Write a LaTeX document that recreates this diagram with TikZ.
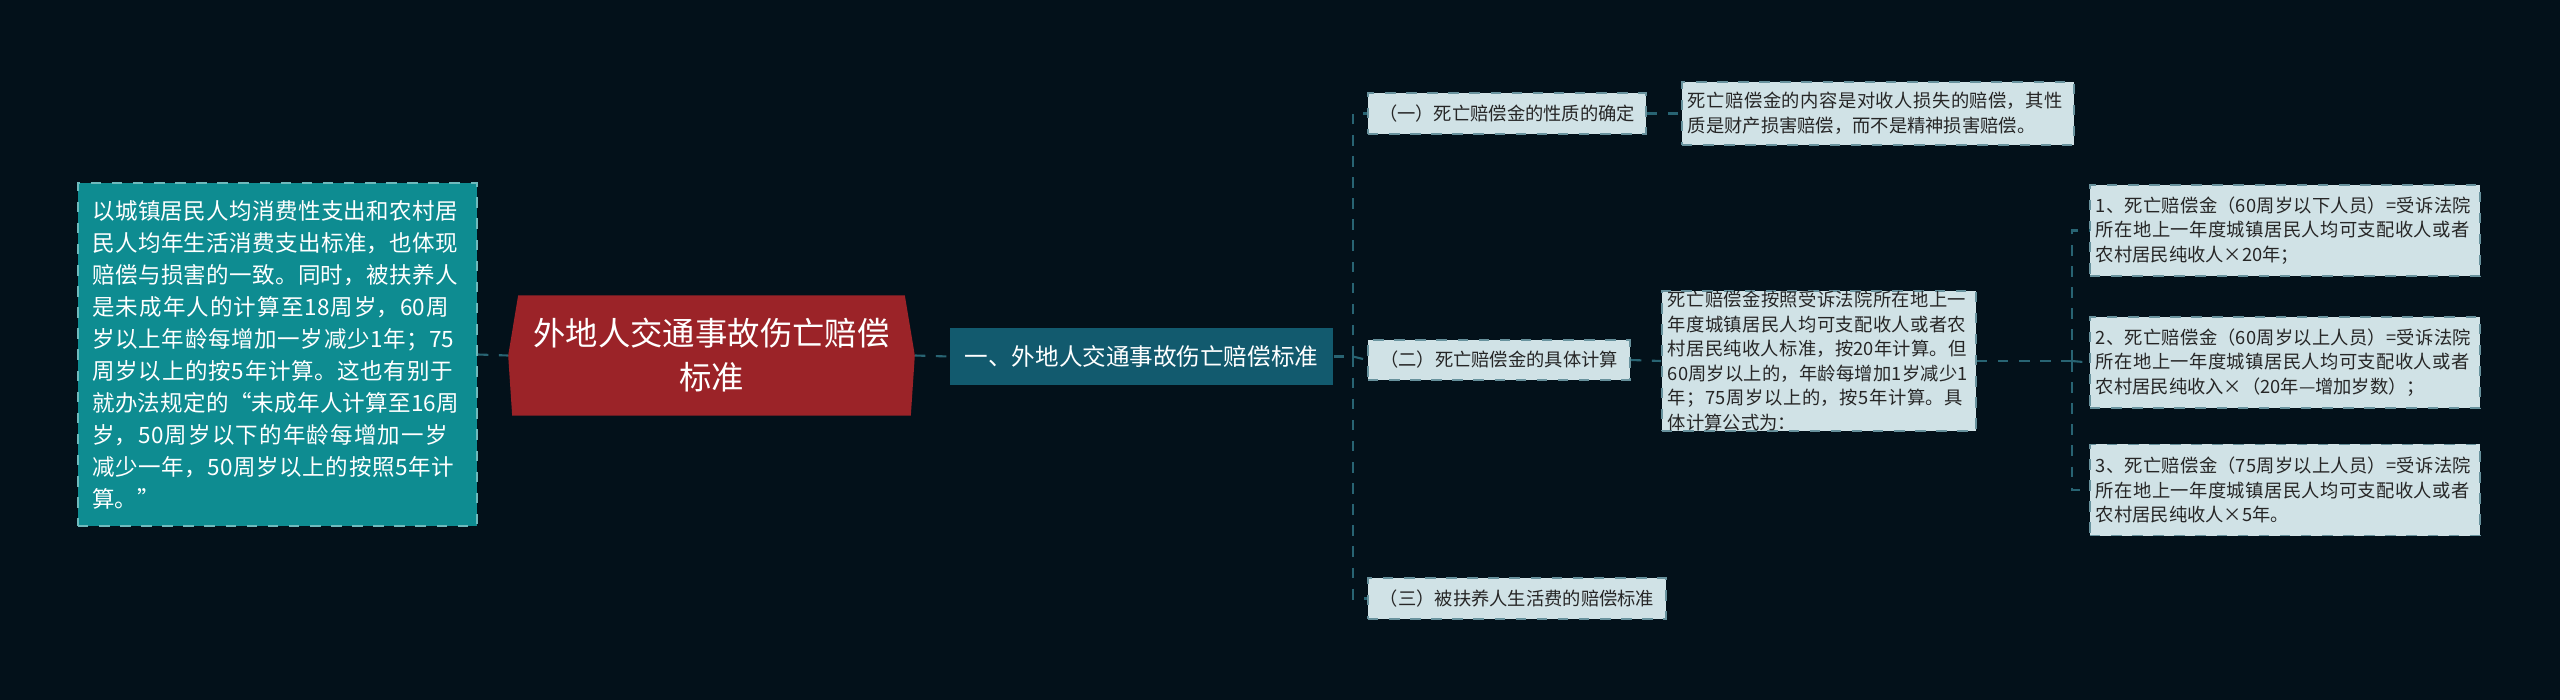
\documentclass[tikz,border=0pt]{standalone}
\usepackage{fontspec}
\setmainfont{Noto Sans CJK SC}
\XeTeXlinebreaklocale "zh"
\XeTeXlinebreakskip=0pt plus 1pt
\usetikzlibrary{positioning,calc}
\definecolor{bgc}{RGB}{3,17,26}
\definecolor{rootc}{RGB}{155,35,40}
\definecolor{leftc}{RGB}{14,140,145}
\definecolor{lonec}{RGB}{18,90,110}
\definecolor{leafc}{RGB}{208,226,230}
\definecolor{linec}{RGB}{40,100,115}
\tikzset{
  leaf/.style={draw=linec!70!white,dashed,fill=leafc,text=black!85,inner xsep=0.06cm,inner ysep=0,align=left,font=\fontsize{5.2pt}{7pt}\selectfont},
  link/.style={draw=linec,dashed,line width=0.6pt}
}
\begin{document}
\begin{tikzpicture}[x=0.01cm,y=-0.01cm]
\fill[bgc] (0,0) rectangle (2560,700);
% left and root
\node[draw=leftc!60!white,dashed,fill=leftc,text=white,inner sep=0,minimum width=3.99cm,minimum height=3.43cm,text width=3.7cm,align=left,font=\fontsize{6.4pt}{9.1pt}\selectfont] (info) at (277.5,354.5)
  {以城镇居民人均消费性支出和农村居民人均年生活消费支出标准，也体现赔偿与损害的一致。同时，被扶养人是未成年人的计算至18周岁，60周岁以上年龄每增加一岁减少1年；75周岁以上的按5年计算。这也有别于就办法规定的“未成年人计算至16周岁，50周岁以下的年龄每增加一岁减少一年，50周岁以上的按照5年计算。”};
\node[inner sep=0,minimum width=4.05cm,minimum height=1.19cm] (root) at (711.5,355.5) {};
\fill[rootc] ($(root.north west)+(10,0)$) -- ($(root.north east)+(-10,0)$) -- (root.east) -- ($(root.south east)+(-4,0)$) -- ($(root.south west)+(4,0)$) -- (root.west) -- cycle;
\node[text=white,align=center,font=\fontsize{9.2pt}{12.5pt}\selectfont] at (root) {外地人交通事故伤亡赔偿\\标准};
\node[fill=lonec,text=white,inner sep=0,minimum width=3.83cm,minimum height=0.57cm,font=\fontsize{6.7pt}{8pt}\selectfont] (lone) at (1141.5,356.5) {一、外地人交通事故伤亡赔偿标准};
% second level
\node[leaf,minimum width=2.78cm,minimum height=0.41cm] (sone) at (1507,113.5) {（一）死亡赔偿金的性质的确定};
\node[leaf,minimum width=2.62cm,minimum height=0.40cm] (stwo) at (1499,360) {（二）死亡赔偿金的具体计算};
\node[leaf,minimum width=2.98cm,minimum height=0.41cm] (sthree) at (1517,598.5) {（三）被扶养人生活费的赔偿标准};
\node[leaf,minimum width=3.92cm,minimum height=0.63cm,text width=3.8cm] (tone) at (1878,113.5) {死亡赔偿金的内容是对收人损失的赔偿，其性质是财产损害赔偿，而不是精神损害赔偿。};
\node[leaf,minimum width=3.14cm,minimum height=1.40cm,text width=3.02cm] (ttwo) at (1819,361) {死亡赔偿金按照受诉法院所在地上一年度城镇居民人均可支配收人或者农村居民纯收人标准，按20年计算。但60周岁以上的，年龄每增加1岁减少1年；75周岁以上的，按5年计算。具体计算公式为：};
% formulas
\node[leaf,minimum width=3.90cm,minimum height=0.91cm,text width=3.78cm] (fone) at (2285,230.5) {1、死亡赔偿金（60周岁以下人员）=受诉法院所在地上一年度城镇居民人均可支配收人或者农村居民纯收人×20年；};
\node[leaf,minimum width=3.90cm,minimum height=0.91cm,text width=3.78cm] (ftwo) at (2285,362.5) {2、死亡赔偿金（60周岁以上人员）=受诉法院所在地上一年度城镇居民人均可支配收人或者农村居民纯收入×（20年—增加岁数）；};
\node[leaf,minimum width=3.90cm,minimum height=0.91cm,text width=3.78cm] (fthree) at (2285,490) {3、死亡赔偿金（75周岁以上人员）=受诉法院所在地上一年度城镇居民人均可支配收人或者农村居民纯收人×5年。};
% links
\draw[link] (info.east) -- (root.west);
\draw[link] (root.east) -- (lone.west);
\draw[link] (lone.east) -- ++(19,0) coordinate (spa);
\draw[link] (spa) |- (sone.west);
\draw[link] (spa) -- (stwo.west);
\draw[link] (spa) |- (sthree.west);
\draw[link] (sone.east) -- (tone.west);
\draw[link] (stwo.east) -- (ttwo.west);
\draw[link] (ttwo.east) -- ++(95,0) coordinate (spb);
\draw[link] (spb) |- (fone.west);
\draw[link] (spb) -- (ftwo.west);
\draw[link] (spb) |- (fthree.west);
\end{tikzpicture}
\end{document}
